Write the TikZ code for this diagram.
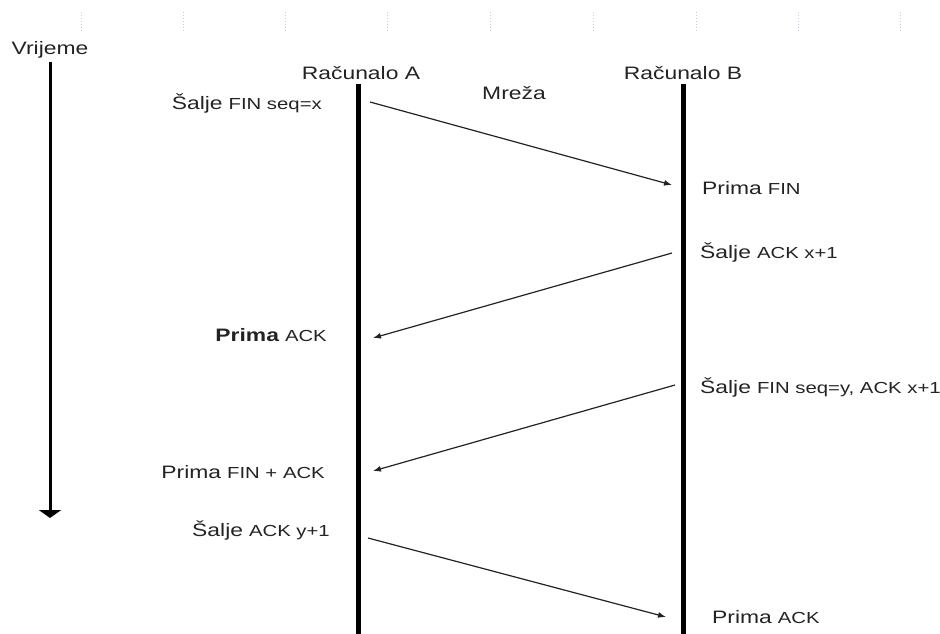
\documentclass[tikz,border=0pt]{standalone}
\usepackage{fontspec}
\setmainfont{Liberation Sans}[FakeStretch=1.27]
\usetikzlibrary{arrows.meta}
\definecolor{txt}{RGB}{35,35,35}
\definecolor{gridc}{RGB}{200,200,235}
\newcommand\bigw[1]{{\fontsize{18}{20}\selectfont #1}}
\newcommand\smw[1]{{\fontsize{16}{18}\selectfont #1}}
\begin{document}
\begin{tikzpicture}[x=1pt,y=-1pt,
  lbl/.style={inner sep=0pt, text=txt, font=\fontsize{17}{19}\selectfont},
  life/.style={line width=5pt, black},
  msg/.style={line width=1.2pt, draw=txt, -{Latex[length=8pt,width=6pt]}},
  timeax/.style={line width=3pt, black, -{Triangle[width=22pt,length=8pt]}},
  gridtick/.style={gridc, dotted, line width=1pt}]
\useasboundingbox (0,0) rectangle (940,634);
% faint grid ticks
\foreach \gx in {81,183,285,387,490,593,696,798,900}
  \draw[gridtick] (\gx,12) -- (\gx,32);
% time axis
\node[lbl, anchor=base] (vr) at (50,54.5) {\bigw{Vrijeme}};
\coordinate (Ttop) at (50,62);
\coordinate (Tbot) at (50,518);
\draw[timeax] (Ttop) -- (Tbot);
% lifelines
\node[lbl, anchor=base] (hA) at (361,79.5) {\bigw{Računalo A}};
\node[lbl, anchor=base] (hB) at (683,79.5) {\bigw{Računalo B}};
\node[lbl, anchor=base] (mr) at (514,99.5) {\bigw{Mreža}};
\coordinate (Atop) at (358,84);
\coordinate (Abot) at (358,634);
\coordinate (Btop) at (683,84);
\coordinate (Bbot) at (683,634);
\draw[life] (Atop) -- (Abot);
\draw[life] (Btop) -- (Bbot);
% message endpoints
\coordinate (m1s) at (370,102);
\coordinate (m1e) at (672,185);
\coordinate (m2s) at (672,253);
\coordinate (m2e) at (373,338);
\coordinate (m3s) at (675,385);
\coordinate (m3e) at (373,471);
\coordinate (m4s) at (368,538);
\coordinate (m4e) at (666,617);
\draw[msg] (m1s) -- (m1e);
\draw[msg] (m2s) -- (m2e);
\draw[msg] (m3s) -- (m3e);
\draw[msg] (m4s) -- (m4e);
% labels left
\node[lbl, anchor=base east] (l1) at (322,109.5) {\bigw{Šalje} \smw{FIN seq=x}};
\node[lbl, anchor=base east] (l2) at (327,341.5) {\bigw{\bfseries Prima} \smw{ACK}};
\node[lbl, anchor=base east] (l3) at (325,478.5) {\bigw{Prima} \smw{FIN + ACK}};
\node[lbl, anchor=base east] (l4) at (330,536.5) {\bigw{Šalje} \smw{ACK y+1}};
% labels right
\node[lbl, anchor=base west] (r1) at (702,194.5) {\bigw{Prima} \smw{FIN}};
\node[lbl, anchor=base west] (r2) at (700,258.5) {\bigw{Šalje} \smw{ACK x+1}};
\node[lbl, anchor=base west] (r3) at (700,393.5) {\bigw{Šalje} \smw{FIN seq=y, ACK x+1}};
\node[lbl, anchor=base west] (r4) at (712,623.5) {\bigw{Prima} \smw{ACK}};
\end{tikzpicture}
\end{document}
